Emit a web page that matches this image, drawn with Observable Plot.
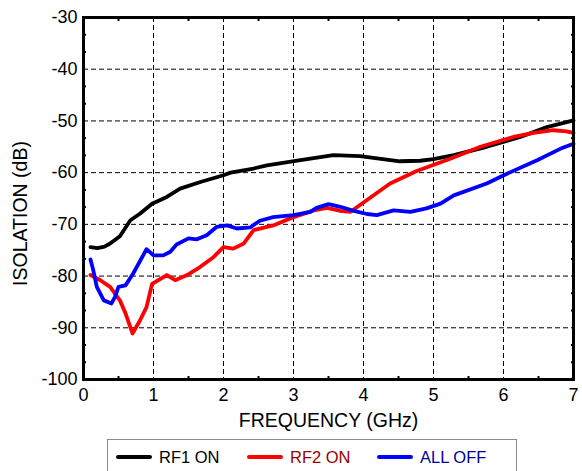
<!DOCTYPE html>
<html>
<head>
<meta charset="utf-8">
<script src="https://cdn.jsdelivr.net/npm/d3@7"></script>
<script src="https://cdn.jsdelivr.net/npm/@observablehq/plot@0.6"></script>
<style>
  html, body { margin: 0; padding: 0; background: #fff; }
  #wrap { position: relative; width: 582px; height: 471px; overflow: hidden; font-family: "Liberation Sans", Arial, sans-serif; }
  #legend { position: absolute; left: 107px; top: 439px; width: 410px; height: 45px; border: 1px solid #8c8c8c; box-sizing: border-box; background: #fff; }
  .item { position: absolute; top: 6px; height: 22px; display: flex; align-items: center; font-size: 16.5px; }
  .swatch { display: inline-block; width: 36px; height: 4px; margin-right: 7px; border-radius: 2px; }
</style>
</head>
<body>
<div id="wrap"><div id="chart"></div><div id="legend"></div></div>
<script>
const xTicks = [0, 1, 2, 3, 4, 5, 6, 7];
const yTicks = [-100, -90, -80, -70, -60, -50, -40, -30];
const xLabel = "FREQUENCY (GHz)";
const yLabel = "ISOLATION (dB)";
const seriesNames = ["RF1 ON", "RF2 ON", "ALL OFF"];
const seriesColors = ["#000000", "#ff0000", "#0000ff"];
const legendTextColors = ["#000000", "#990000", "#000099"];

const rf1Freq = [0.1, 0.2, 0.3, 0.38, 0.52, 0.67, 0.81, 0.98, 1.19, 1.38, 1.67, 2.0, 2.1, 2.43, 2.62, 3.1, 3.57, 3.95, 4.52, 4.81, 5.0, 5.29, 5.76, 6.24, 6.62, 7.0];
const rf1Iso  = [-74.4, -74.6, -74.3, -73.7, -72.3, -69.2, -67.9, -66.0, -64.7, -63.1, -61.8, -60.5, -60.0, -59.2, -58.6, -57.6, -56.6, -56.8, -57.8, -57.7, -57.4, -56.6, -55.0, -53.1, -51.2, -49.9];

const rf2Freq = [0.1, 0.24, 0.38, 0.52, 0.6, 0.7, 0.81, 0.9, 0.98, 1.19, 1.31, 1.48, 1.67, 1.86, 2.0, 2.14, 2.29, 2.43, 2.71, 3.0, 3.29, 3.48, 3.67, 3.81, 4.05, 4.38, 4.76, 5.24, 5.67, 6.14, 6.43, 6.71, 6.9, 7.0];
const rf2Iso  = [-79.8, -80.8, -82.1, -84.7, -87.2, -91.1, -88.5, -86.0, -81.5, -79.8, -80.8, -79.8, -78.2, -76.3, -74.4, -74.7, -73.7, -71.1, -70.2, -68.6, -67.3, -66.8, -67.4, -67.6, -65.3, -62.1, -59.7, -57.3, -55.0, -53.1, -52.3, -51.8, -52.0, -52.3];

const offFreq = [0.1, 0.14, 0.19, 0.29, 0.4, 0.45, 0.5, 0.6, 0.71, 0.9, 1.0, 1.14, 1.24, 1.33, 1.5, 1.62, 1.76, 1.9, 2.05, 2.19, 2.38, 2.52, 2.71, 3.0, 3.24, 3.33, 3.5, 3.67, 3.86, 4.05, 4.19, 4.43, 4.67, 4.9, 5.1, 5.29, 5.76, 6.05, 6.48, 6.81, 7.0];
const offIso  = [-76.8, -78.9, -82.1, -84.7, -85.3, -84.0, -82.1, -81.8, -79.5, -74.8, -76.0, -76.0, -75.3, -73.9, -72.7, -72.9, -72.1, -70.5, -70.2, -70.8, -70.6, -69.3, -68.6, -68.2, -67.6, -66.8, -66.1, -66.6, -67.4, -68.0, -68.2, -67.3, -67.6, -66.9, -66.0, -64.4, -62.1, -60.2, -57.6, -55.4, -54.4];

const seriesFreq = [rf1Freq, rf2Freq, offFreq];
const seriesIso = [rf1Iso, rf2Iso, offIso];
const rows = [];
seriesNames.forEach((name, i) => {
  seriesFreq[i].forEach((f, j) => rows.push({series: name, f, v: seriesIso[i][j]}));
});

const xMinor = d3.range(0.5, 7, 1);
const yMinor = d3.range(0, 7).flatMap(k => [yTicks[k] + 10 / 3, yTicks[k] + 20 / 3]);

const font = "Liberation Sans, Arial, sans-serif";

const chart = Plot.plot({
  width: 582,
  height: 430,
  marginTop: 17,
  marginBottom: 51,
  marginLeft: 83,
  marginRight: 9,
  style: {fontFamily: font, fontSize: "18px", color: "#000", background: "#fff", overflow: "visible"},
  x: {domain: [0, 7]},
  y: {domain: [-100, -30]},
  color: {domain: seriesNames, range: seriesColors},
  marks: [
    Plot.gridX(xTicks, {stroke: "#000", strokeOpacity: 1, strokeWidth: 1, strokeDasharray: "5,3"}),
    Plot.gridY(yTicks, {stroke: "#000", strokeOpacity: 1, strokeWidth: 1, strokeDasharray: "5,3"}),
    Plot.axisX({anchor: "bottom", ticks: xMinor, tickSize: -3, text: null, label: null, strokeWidth: 2}),
    Plot.axisX({anchor: "top", ticks: xMinor, tickSize: -3, text: null, label: null, strokeWidth: 2}),
    Plot.axisY({anchor: "left", ticks: yMinor, tickSize: -3, text: null, label: null, strokeWidth: 2}),
    Plot.axisY({anchor: "right", ticks: yMinor, tickSize: -3, text: null, label: null, strokeWidth: 2}),
    Plot.axisX({anchor: "bottom", ticks: xTicks, tickSize: 0, tickPadding: 9, tickFormat: d => String(d), label: null, fontSize: 18}),
    Plot.axisY({anchor: "left", ticks: yTicks, tickSize: 0, tickPadding: 6, tickFormat: d => String(d), label: null, fontSize: 18}),
    Plot.line(rows, {x: "f", y: "v", z: "series", stroke: "series", strokeWidth: 3.8, strokeLinejoin: "round", strokeLinecap: "round"}),
    Plot.frame({stroke: "#000", strokeWidth: 3}),
    Plot.text([xLabel], {text: d => d, frameAnchor: "bottom", dy: 41, lineAnchor: "middle", fontSize: 19.5}),
    Plot.text([yLabel], {text: d => d, frameAnchor: "left", dx: -63, dy: 15, rotate: -90, lineAnchor: "middle", textAnchor: "middle", fontSize: 19.5})
  ]
});
document.getElementById("chart").appendChild(chart);

const legend = document.getElementById("legend");
const itemLefts = [8, 139, 269];
seriesNames.forEach((name, i) => {
  const item = document.createElement("div");
  item.className = "item";
  item.style.left = itemLefts[i] + "px";
  const sw = document.createElement("span");
  sw.className = "swatch";
  sw.style.background = seriesColors[i];
  const label = document.createElement("span");
  label.textContent = name;
  label.style.color = legendTextColors[i];
  item.appendChild(sw);
  item.appendChild(label);
  legend.appendChild(item);
});
</script>
</body>
</html>
